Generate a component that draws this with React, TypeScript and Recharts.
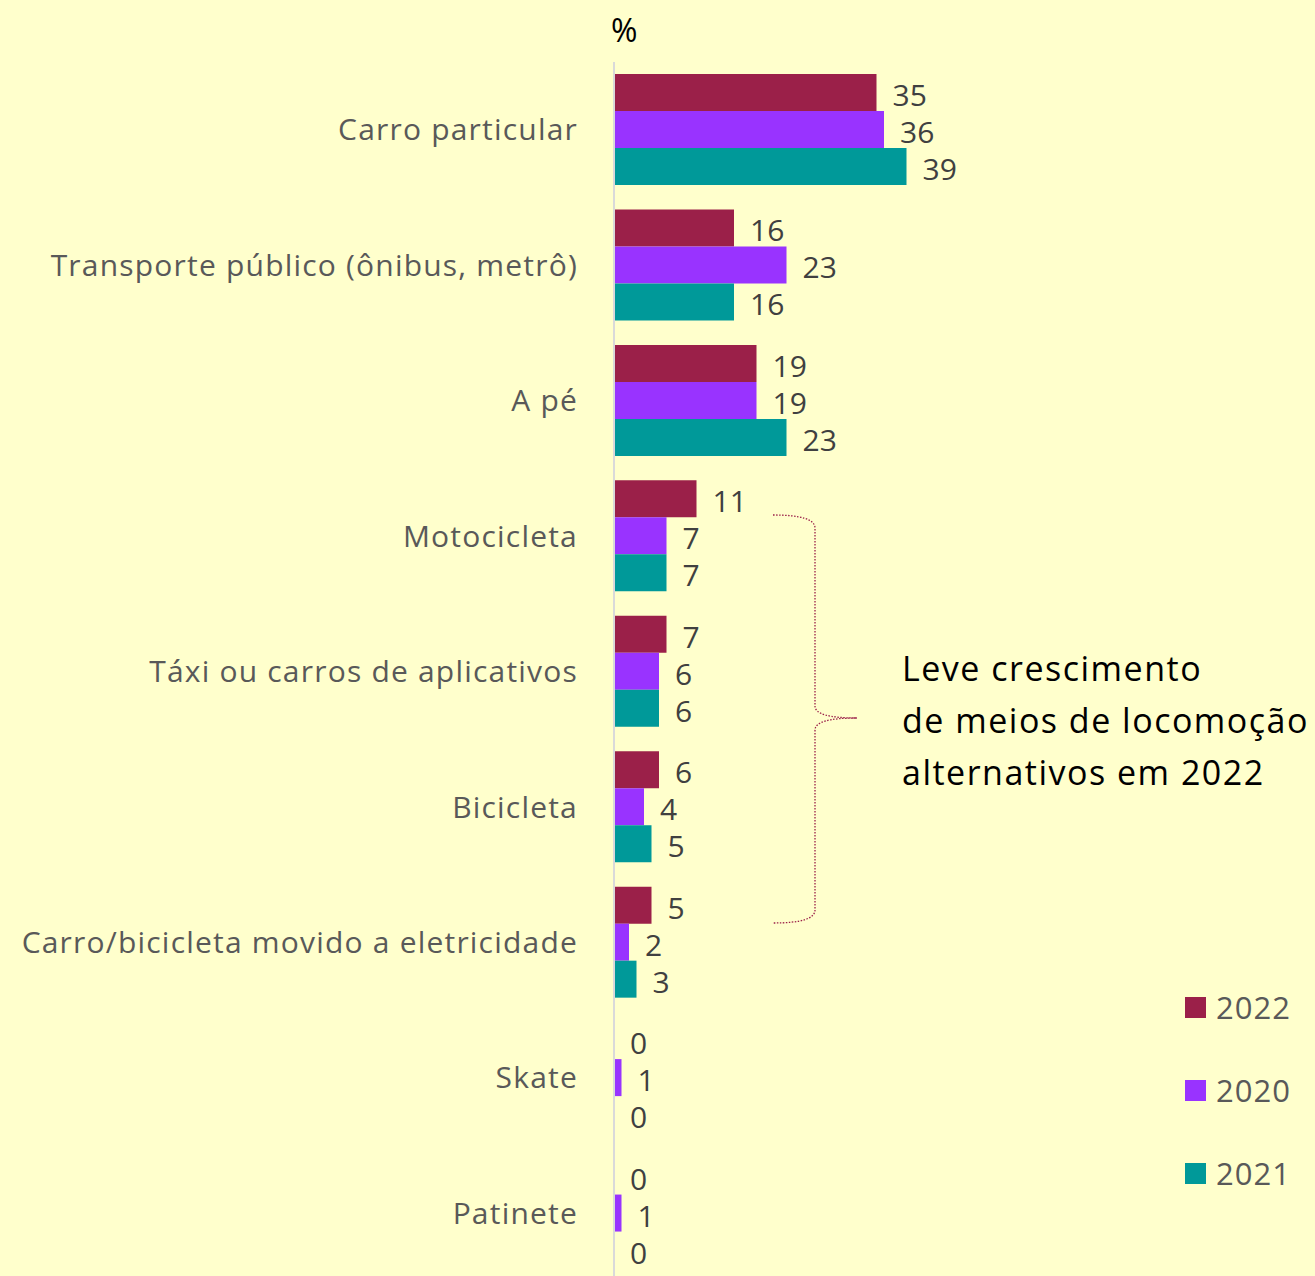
import React from 'react';
import { BarChart, Bar, XAxis, YAxis, LabelList } from 'recharts';

const categories = [
  'Carro particular',
  'Transporte público (ônibus, metrô)',
  'A pé',
  'Motocicleta',
  'Táxi ou carros de aplicativos',
  'Bicicleta',
  'Carro/bicicleta movido a eletricidade',
  'Skate',
  'Patinete',
];
const values2022 = [35, 16, 19, 11, 7, 6, 5, 0, 0];
const values2020 = [36, 23, 19, 7, 6, 4, 2, 1, 1];
const values2021 = [39, 16, 23, 7, 6, 5, 3, 0, 0];

const seriesList = [
  { key: 'y2022', name: '2022', color: '#9B2049', values: values2022 },
  { key: 'y2020', name: '2020', color: '#9933FF', values: values2020 },
  { key: 'y2021', name: '2021', color: '#009999', values: values2021 },
];

const data = categories.map((c, i) => ({
  category: c,
  y2022: values2022[i],
  y2020: values2020[i],
  y2021: values2021[i],
}));

const FONT = '"Open Sans", "Liberation Sans", sans-serif';

// value label drawn to the right of each bar (also for zero values)
const ValueLabel = (props: any) => {
  const { x, y, width, height, value } = props;
  return (
    <text
      x={Number(x) + Number(width) + 16}
      y={Number(y) + Number(height) / 2 + 2}
      dominantBaseline="central"
      fill="#404040"
      fontSize={30}
      fontFamily={FONT}
    >
      {value}
    </text>
  );
};

const App: React.FC = () => {
  return (
    <div
      style={{
        position: 'absolute',
        left: 0,
        top: 0,
        width: 1315,
        height: 1276,
        overflow: 'hidden',
        background: '#FFFFCC',
        fontFamily: FONT,
      }}
    >
      <BarChart
        width={1315}
        height={1281}
        data={data}
        layout="vertical"
        margin={{ top: 62, right: 401, left: 0, bottom: 0 }}
        barSize={37}
        barGap={0}
      >
        <XAxis type="number" domain={[0, 40]} hide />
        <YAxis
          type="category"
          dataKey="category"
          width={614}
          axisLine={{ stroke: '#D9D9D9', strokeWidth: 2 }}
          tickLine={false}
          tickSize={0}
          tickMargin={36}
          tick={{ fill: '#595959', fontSize: 30, fontFamily: FONT, letterSpacing: 1.2 }}
        />
        {seriesList.map((s) => (
          <Bar
            key={s.key}
            dataKey={s.key}
            name={s.name}
            fill={s.color}
            minPointSize={0.01}
            isAnimationActive={false}
          >
            <LabelList dataKey={s.key} content={ValueLabel} />
          </Bar>
        ))}
      </BarChart>

      <svg
        width={1315}
        height={1276}
        style={{ position: 'absolute', left: 0, top: 0, pointerEvents: 'none' }}
      >
        <text x={611} y={42} fontSize={32} fill="#000" fontFamily={FONT}>
          %
        </text>
        <path
          d="M773,515 Q815,515 815,528 L815,706 Q815,718 857,718 Q815,718 815,730 L815,910 Q815,923 773,923"
          fill="none"
          stroke="#9B2049"
          strokeWidth={1.3}
          strokeDasharray="1.5 1.5"
        />
      </svg>

      <div
        style={{
          position: 'absolute',
          left: 902,
          top: 642,
          fontSize: 34,
          letterSpacing: 1.5,
          lineHeight: '52px',
          color: '#000',
          whiteSpace: 'nowrap',
        }}
      >
        Leve crescimento
        <br />
        de meios de locomoção
        <br />
        alternativos em 2022
      </div>

      <div style={{ position: 'absolute', left: 1185, top: 985 }}>
        {seriesList.map((s) => (
          <div
            key={s.key}
            style={{ display: 'flex', alignItems: 'center', height: 44, marginBottom: 39 }}
          >
            <span style={{ width: 21, height: 21, background: s.color, display: 'inline-block' }} />
            <span style={{ marginLeft: 10, fontSize: 31, letterSpacing: 1, color: '#595959' }}>
              {s.name}
            </span>
          </div>
        ))}
      </div>
    </div>
  );
};

export default App;
